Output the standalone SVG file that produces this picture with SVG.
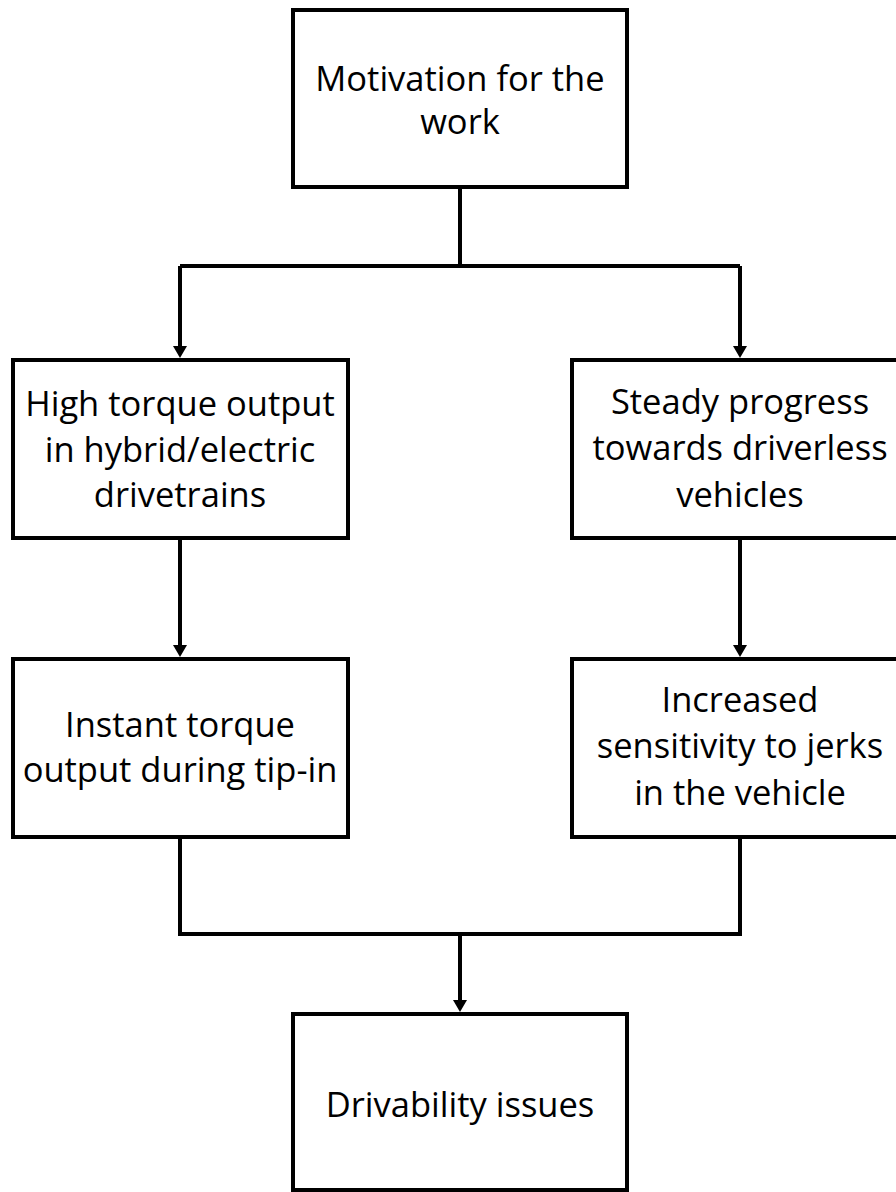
<svg xmlns="http://www.w3.org/2000/svg" width="896" height="1192" viewBox="0 0 896 1192">
  <defs>
    <style>
      .box { fill: #ffffff; stroke: #000000; stroke-width: 4; }
      .conn { fill: none; stroke: #000000; stroke-width: 4; stroke-linejoin: miter; }
      .lbl { font-family: "Open Sans", "Noto Sans", "Liberation Sans", sans-serif; font-size: 34.5px; fill: #000000; text-anchor: middle; }
    </style>
    <marker id="arrow" markerUnits="userSpaceOnUse" markerWidth="14" markerHeight="14" refX="2" refY="7" orient="auto">
      <path d="M0,0 L12,7 L0,14 Z" fill="#000000"/>
    </marker>
  </defs>
  <rect width="896" height="1192" fill="#ffffff"/>

  <g id="connectors">
    <path class="conn" d="M460,187 L460,266"/>
    <path class="conn" d="M180,266 L740,266"/>
    <path class="conn" d="M180,266 L180,348" marker-end="url(#arrow)"/>
    <path class="conn" d="M740,266 L740,348" marker-end="url(#arrow)"/>
    <path class="conn" d="M180,538 L180,647" marker-end="url(#arrow)"/>
    <path class="conn" d="M740,538 L740,647" marker-end="url(#arrow)"/>
    <path class="conn" d="M180,837 L180,934 L740,934 L740,837"/>
    <path class="conn" d="M460,934 L460,1002" marker-end="url(#arrow)"/>
  </g>

  <g id="node-motivation">
    <rect class="box" x="293" y="10" width="334" height="177"/>
    <text class="lbl" x="460" y="91">Motivation for the</text>
    <text class="lbl" x="460" y="134">work</text>
  </g>

  <g id="node-high-torque">
    <rect class="box" x="13" y="360" width="335" height="178"/>
    <text class="lbl" x="180" y="416">High torque output</text>
    <text class="lbl" x="180" y="462">in hybrid/electric</text>
    <text class="lbl" x="180" y="507">drivetrains</text>
  </g>

  <g id="node-steady-progress">
    <rect class="box" x="572" y="360" width="336" height="178"/>
    <text class="lbl" x="740" y="414">Steady progress</text>
    <text class="lbl" x="740" y="460">towards driverless</text>
    <text class="lbl" x="740" y="507">vehicles</text>
  </g>

  <g id="node-instant-torque">
    <rect class="box" x="13" y="659" width="335" height="178"/>
    <text class="lbl" x="180" y="737">Instant torque</text>
    <text class="lbl" x="180" y="782">output during tip-in</text>
  </g>

  <g id="node-sensitivity">
    <rect class="box" x="572" y="659" width="336" height="178"/>
    <text class="lbl" x="740" y="712">Increased</text>
    <text class="lbl" x="740" y="758">sensitivity to jerks</text>
    <text class="lbl" x="740" y="805">in the vehicle</text>
  </g>

  <g id="node-drivability">
    <rect class="box" x="293" y="1014" width="334" height="176"/>
    <text class="lbl" x="460" y="1117">Drivability issues</text>
  </g>
</svg>
